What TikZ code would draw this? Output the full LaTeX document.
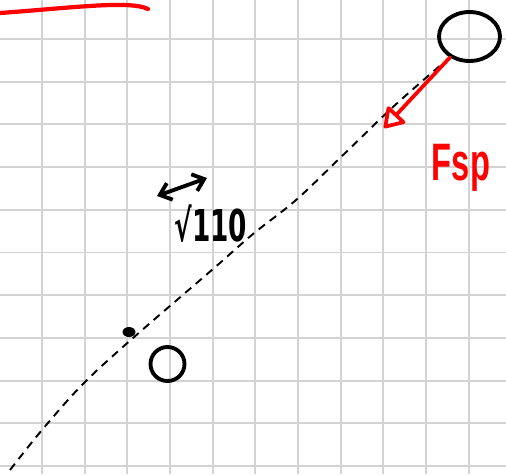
\documentclass[tikz,border=0pt]{standalone}
\usepackage{fontspec}
\setmainfont{Liberation Sans}
\newfontfamily\symfont{DejaVu Sans}
\usetikzlibrary{positioning,calc,arrows.meta,shapes.geometric}
\definecolor{gridgray}{HTML}{D3D3D3}
\definecolor{penred}{HTML}{FF0000}

\begin{document}
\begin{tikzpicture}[x=0.02cm, y=-0.02cm,
  gridline/.style={draw=gridgray, line width=1.1pt},
  ink/.style={draw=black, line width=2.2pt, line cap=round},
  forcearrow/.style={draw=penred, line width=2.1pt, line cap=round, -{Triangle[open, length=12pt, width=15pt, round]}},
  trackline/.style={draw=black, line width=1.1pt, dash pattern=on 4.5pt off 3.4pt}]
\useasboundingbox[fill=white] (0,0) rectangle (506,474);

% Grid paper
\foreach \k in {1,...,11} \draw[gridline] ({42.65*\k-0.6},0) -- ({42.65*\k-0.6},474);
\foreach \k in {0,...,10} \draw[gridline] (0,{39+42.7*\k}) -- (506,{39+42.7*\k});

% Red stroke at top
\draw[penred, line width=2.4pt, line cap=round] (0,13) .. controls (70,8) and (130,0) .. (148,9);

% Balls
\node (ballBig) [ellipse, ink, minimum width=1.22cm, minimum height=0.98cm, inner sep=0pt] at (469.5,36.5) {};
\node (ballSmall) [circle, ink, minimum size=0.68cm, inner sep=0pt] at (167.5,364) {};
\node (dotMark) [ellipse, fill=black, minimum width=0.26cm, minimum height=0.2cm, inner sep=0pt] at (129,332) {};

% Dashed path
\draw[trackline] plot[smooth, tension=0.6] coordinates {(10,470) (42,430) (83,384) (133,338) (213,269) (253,234) (296,200) (341,157) (393,107) (442,64)};

% Force
\coordinate (forceTip) at (384,128);
\draw[forcearrow] (ballBig) -- (forceTip);
\node (fspLabel) [text=penred, font=\bfseries\fontsize{30}{30}\selectfont, inner sep=0pt, xscale=0.62, transform shape] at (461,168) {Fsp};

% Distance
\coordinate (distL) at (157,196);
\coordinate (distR) at (207,178);
\draw[ink, {Straight Barb[length=6pt, width=10pt]}-{Straight Barb[length=6pt, width=10pt]}] (distL) -- (distR);
\node (rootLabel) [font=\symfont\bfseries\fontsize{25}{25}\selectfont, inner sep=0pt, xscale=0.6, transform shape] at (211,224) {√110};
\end{tikzpicture}
\end{document}
